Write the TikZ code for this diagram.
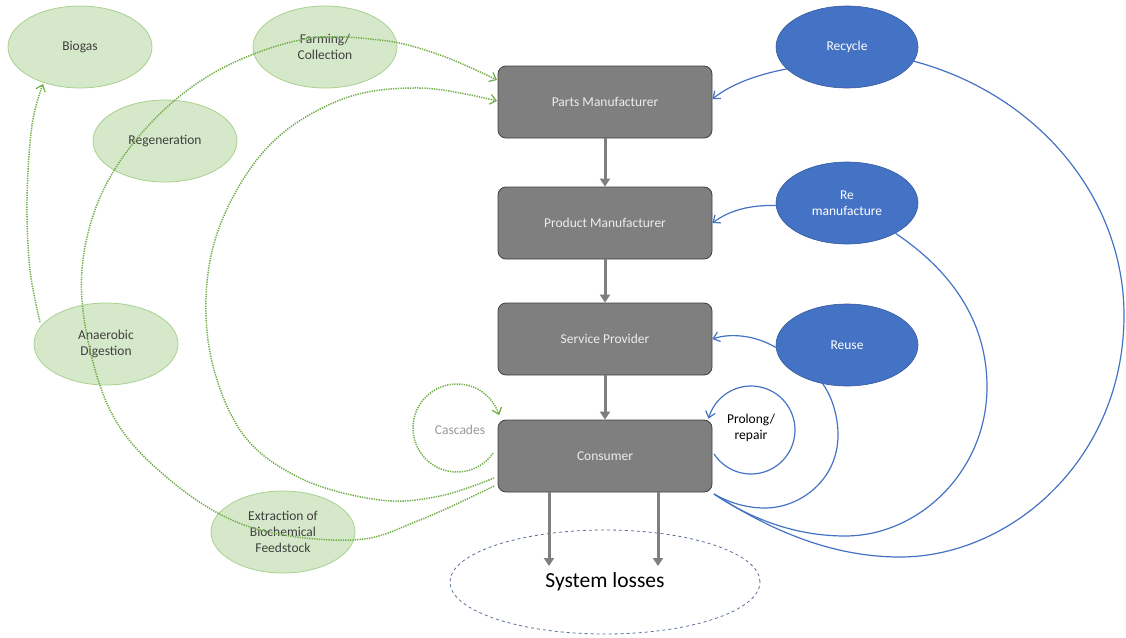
\documentclass[tikz,border=0pt]{standalone}
\usepackage{fontspec}
\setmainfont{Carlito}
\usetikzlibrary{arrows.meta,shapes.geometric}
\definecolor{gfill}{HTML}{D5E8CA}
\definecolor{gline}{HTML}{A9D18E}
\definecolor{gdot}{HTML}{70AD47}
\definecolor{gtext}{HTML}{404040}
\definecolor{bfill}{HTML}{4472C4}
\definecolor{bline}{HTML}{4472C4}
\definecolor{boxfill}{HTML}{7F7F7F}
\definecolor{boxline}{HTML}{404040}
\definecolor{losses}{HTML}{5A6E9A}
\tikzset{
  gell/.style={ellipse, draw=gline, fill=gfill, line width=0.8pt, minimum width=144pt, minimum height=82pt, inner sep=0pt, align=center, text=gtext, font=\fontsize{13.5}{16}\selectfont},
  bell/.style={ellipse, draw=bfill!80!black, fill=bfill, line width=0.6pt, minimum width=142pt, minimum height=82pt, inner sep=0pt, align=center, text=white, font=\fontsize{13.5}{16}\selectfont},
  stagebox/.style={rectangle, rounded corners=8pt, draw=boxline, fill=boxfill, line width=0.8pt, minimum width=214pt, minimum height=72pt, text=white!93!black, font=\fontsize{13.5}{16}\selectfont},
  flowarrow/.style={draw=boxfill, line width=3pt, -{Triangle[length=8pt,width=10pt]}},
  gdots/.style={draw=gdot, line width=1.5pt, dash pattern=on 1.3pt off 1.1pt},
  gtip/.style={-{Straight Barb[length=6pt,width=10pt,line width=1.2pt]}},
  bcurve/.style={draw=bline, line width=1.2pt},
  btip/.style={-{Straight Barb[length=6pt,width=10pt,line width=1.2pt]}},
}
\begin{document}
\begin{tikzpicture}[x=1pt,y=-1pt]
\useasboundingbox (0,0) rectangle (1126,637);
% green ellipses
\node[gell] (biogas) at (80,47) {Biogas};
\node[gell] (farm) at (325,47) {Farming/\\Collection};
\node[gell] (regen) at (165,141) {Regeneration};
\node[gell] (anaer) at (106,344) {Anaerobic\\Digestion};
\node[gell] (extr) at (283,532) {Extraction of\\Biochemical\\Feedstock};
% blue ellipses
\node[bell] (recycle) at (847,47) {Recycle};
\node[bell] (reman) at (847,203) {Re\\manufacture};
\node[bell] (reuse) at (847,345) {Reuse};
% boxes
\node[stagebox] (parts) at (605,102) {Parts Manufacturer};
\node[stagebox] (prod) at (605,223) {Product Manufacturer};
\node[stagebox] (serv) at (605,339) {Service Provider};
\node[stagebox] (cons) at (605,456) {Consumer};
% system losses
\node[ellipse, draw=losses, dashed, line width=0.8pt, minimum width=310pt, minimum height=104pt, font=\fontsize{21.5}{25}\selectfont] (loss) at (605,582) {System losses};
% text labels
\node[text=black!40, font=\fontsize{13.5}{16}\selectfont] (casc) at (460,430) {Cascades};
\node[align=center, text=black, font=\fontsize{13.5}{16}\selectfont] (prol) at (751,428) {Prolong/\\repair};
% gray flow
\draw[flowarrow] (parts.south) -- (prod.north);
\draw[flowarrow] (prod.south) -- (serv.north);
\draw[flowarrow] (serv.south) -- (cons.north);
\coordinate (l1) at (549,566);
\coordinate (l2) at (658,566);
\draw[flowarrow] (cons.south -| l1) -- (l1);
\draw[flowarrow] (cons.south -| l2) -- (l2);
% green dotted
\coordinate (cA) at (494,486);
\coordinate (cB) at (494,478);
\draw[gdots, gtip] plot[smooth, tension=0.6] coordinates {(cA) (420,520) (353,540) (250,527) (170,480) (110,410) (82,300) (95,210) (140,135) (210,75) (300,40) (380,40) (440,55) (497,80)};
\draw[gdots, gtip] plot[smooth, tension=0.6] coordinates {(cB) (440,496) (380,500) (300,478) (240,430) (208,340) (215,240) (265,150) (340,100) (420,88) (497,101)};
\draw[gdots, gtip] plot[domain=35:343, samples=50, smooth] ({457+44*cos(\x)},{428+44*sin(\x)});
\draw[gdots, gtip] plot[smooth, tension=0.6] coordinates {(40,322) (30,270) (27,200) (32,125) (43,84)};
% blue
\draw[bcurve, btip] (recycle.200) .. controls (755,75) and (730,85) .. (parts.east |- 0,99);
\draw[bcurve, btip] (reman.182) .. controls (750,205) and (730,210) .. (prod.east);
\draw[bcurve, btip] (reuse.182) .. controls (755,335) and (730,333) .. (serv.east);
\draw[bcurve, btip] plot[domain=147:-165, samples=60, smooth] ({751+44*cos(\x)},{430+44*sin(\x)});
\coordinate (cR) at (714,494);
\draw[bcurve] (reuse.-122) .. controls (833,398) and (838,418) .. (838,435)
   .. controls (838,480) and (800,508) .. (765,508)
   .. controls (745,508) and (728,502) .. (cR);
\draw[bcurve] (reman.-32) .. controls (950,270) and (987,320) .. (987,387)
   .. controls (987,470) and (920,536) .. (845,536)
   .. controls (790,536) and (745,515) .. (cR);
\draw[bcurve] (recycle.-12) .. controls (1040,95) and (1124,200) .. (1124,315)
   .. controls (1124,460) and (1010,557) .. (900,557)
   .. controls (820,557) and (755,520) .. (cR);
\end{tikzpicture}
\end{document}
